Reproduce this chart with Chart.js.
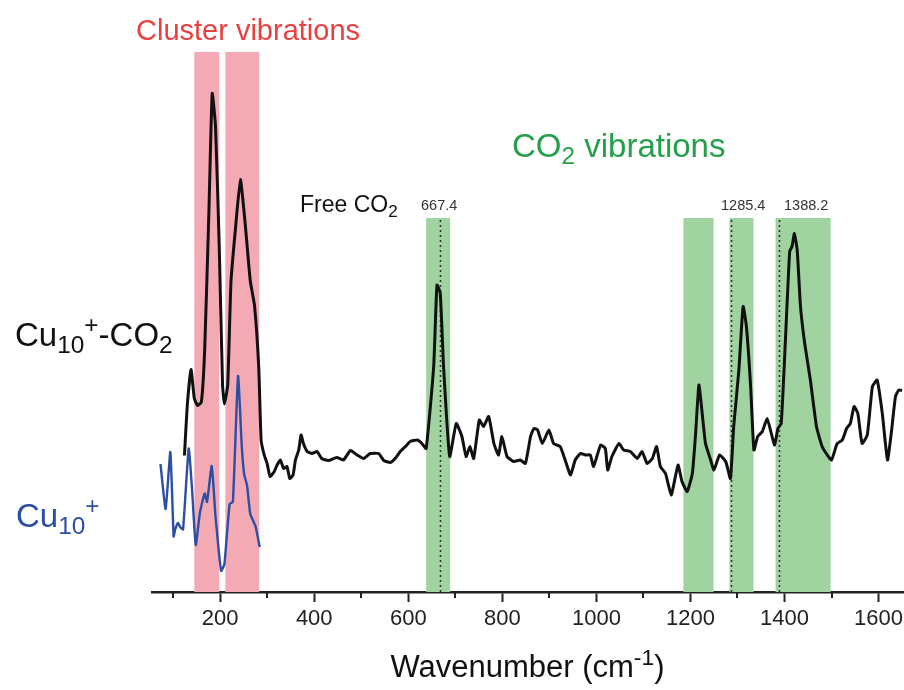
<!DOCTYPE html>
<html>
<head>
<meta charset="utf-8" />
<title>Cu10+ / Cu10+-CO2 IR spectrum</title>
<script src="https://cdn.jsdelivr.net/npm/chart.js@4.4.1/dist/chart.umd.min.js"></script>
<style>
  html, body { margin: 0; padding: 0; background: #fff; }
  #wrap { width: 904px; height: 690px; }
</style>
</head>
<body>
<div id="wrap"><canvas id="spec"></canvas></div>
<script>
// Cu10+-CO2 spectrum (black)
const complexWn = [124,130,138,145,152,160,167,176,183,190,198,205,209,216,223,233,243,253,264,273,
  282,287,293,300,306,315,321,328,335,342,348,355,360,367,372,377,385,395,406,416,
  430,448,462,477,491,505,519,537,548,562,572,583,594,604,619,629,638,654,661,668,
  675,688,702,714,723,731,739,751,760,771,782,792,799,810,824,838,849,860,867,875,
  885,899,909,923,936,945,955,966,977,987,994,1009,1019,1024,1033,1048,1058,1072,1087,1097,
  1108,1119,1128,1136,1147,1159,1168,1174,1182,1193,1204,1211,1218,1225,1232,1243,1250,1262,1275,1285,
  1292,1303,1312,1319,1328,1335,1343,1353,1363,1372,1379,1386,1393,1402,1411,1416,1421,1427,1434,1443,
  1455,1468,1480,1491,1500,1512,1523,1532,1540,1548,1556,1565,1576,1587,1597,1608,1619,1627,1636,1643,1650];
const complexInt = [27.3,37.3,44.5,38.7,37.3,38,48.4,76,99.7,93.2,69,41.4,37.6,41.4,62.2,73.2,82.5,73.8,62.2,57.3,
  44.9,30.4,27.6,25.6,23.1,24.1,25.4,26.4,24.7,25.1,22.7,23.4,26.4,28.4,31.4,29.7,28.1,27.7,28.1,26.7,
  26.3,26.9,26.4,28.3,27.4,26.7,27.7,27.7,26.3,25.9,26.7,28.1,29.1,30.1,30.4,29.7,28.7,45.1,61.4,59.7,
  45.1,27.1,33.7,31.1,27.1,29.1,26.7,34.4,33.1,35.1,29.7,27.4,31.1,27.1,26.1,26.4,25.7,31.1,32.7,32.4,
  29.7,32.4,29.7,29.1,25.7,23.4,26.4,27.7,27.4,27.4,25.1,29.4,28.7,24.4,27.1,29.7,28.4,28.1,26.7,28.1,
  25.7,26.7,29.1,25.1,23.7,19.4,23.1,25.4,22.1,20.1,23.7,31.7,41.4,35.7,29.7,26.4,24.4,27.4,26.1,22.7,
  33.1,44.4,57.1,53.1,41.1,28.4,31.1,32.1,34.7,31.7,29.4,32.7,33.7,50.4,68.1,69.1,71.7,68.4,57.1,49.7,
  42.4,33.1,29.1,27.4,26.4,29.7,30.4,32.7,33.7,37.1,35.7,29.7,31.4,41.1,42.4,35.7,26.4,31.7,39.1,40.4,40.3];

// bare Cu10+ spectrum (blue)
const bareWn = [73,84,94,101,104,110,115,121,133,140,148,157,167,172,182,190,202,209,220,227,238,246,251,257,264,275,284];
const bareInt = [25.6,16.6,28,11.1,12.4,13.8,13,12.5,28.7,20.8,9.4,15.9,19.7,18,25.2,15.2,4.2,5.6,17.6,18,43.2,29,23.5,21.4,15.6,13.2,9];

// shaded regions (wavenumber ranges) and free CO2 lines
const clusterBands = [[145, 198], [211, 283]];
const co2Bands = [[638, 689], [1185, 1249], [1283, 1334], [1381, 1498]];
const co2BandTop = 74.8;
const freeCO2Lines = [667.4, 1285.4, 1388.2];

// axis ticks
const xTickLabels = [200, 400, 600, 800, 1000, 1200, 1400, 1600];
const xMinorTicks = [100, 300, 500, 700, 900, 1100, 1300, 1500];

const FONT = '"Liberation Sans", Arial, Helvetica, sans-serif';

// draw a string made of normal / subscript (-1) / superscript (1) pieces
function drawRuns(ctx, parts, x, y, size, color, align) {
  const fs = k => (k ? size * 0.74 : size);
  let w = 0;
  parts.forEach(([t, k]) => { ctx.font = fs(k) + 'px ' + FONT; w += ctx.measureText(t).width; });
  let cx = align === 'center' ? x - w / 2 : x;
  ctx.fillStyle = color;
  ctx.textAlign = 'left';
  ctx.textBaseline = 'alphabetic';
  parts.forEach(([t, k]) => {
    ctx.font = fs(k) + 'px ' + FONT;
    const dy = k === -1 ? size * 0.22 : (k === 1 ? -size * 0.38 : 0);
    ctx.fillText(t, cx, y + dy);
    cx += ctx.measureText(t).width;
  });
}

const annotate = {
  id: 'annotate',
  beforeDatasetsDraw(chart) {
    const {ctx, chartArea: a, scales: {x, y}} = chart;
    ctx.save();
    ctx.fillStyle = 'rgb(244,170,181)';
    clusterBands.forEach(([lo, hi]) => {
      const x0 = x.getPixelForValue(lo), x1 = x.getPixelForValue(hi);
      ctx.fillRect(x0, a.top, x1 - x0, a.bottom - a.top);
    });
    const gTop = y.getPixelForValue(co2BandTop);
    ctx.fillStyle = 'rgb(160,211,160)';
    co2Bands.forEach(([lo, hi]) => {
      const x0 = x.getPixelForValue(lo), x1 = x.getPixelForValue(hi);
      ctx.fillRect(x0, gTop, x1 - x0, a.bottom - gTop);
    });
    ctx.strokeStyle = '#333';
    ctx.lineWidth = 1.6;
    ctx.setLineDash([2, 3]);
    freeCO2Lines.forEach(v => {
      const px = Math.round(x.getPixelForValue(v)) + 0.5;
      ctx.beginPath();
      ctx.moveTo(px, gTop + 2);
      ctx.lineTo(px, a.bottom);
      ctx.stroke();
    });
    ctx.restore();
  },
  afterDraw(chart) {
    const {ctx, chartArea: a, scales: {x}} = chart;
    ctx.save();
    // minor ticks
    ctx.strokeStyle = '#222';
    ctx.lineWidth = 2;
    xMinorTicks.forEach(v => {
      const px = Math.round(x.getPixelForValue(v));
      ctx.beginPath();
      ctx.moveTo(px, a.bottom);
      ctx.lineTo(px, a.bottom + 6);
      ctx.stroke();
    });
    // labels
    drawRuns(ctx, [['Cluster vibrations', 0]], 136, 40, 29, '#e8403f');
    drawRuns(ctx, [['CO', 0], ['2', -1], [' vibrations', 0]], 512, 157, 33, '#24a04b');
    drawRuns(ctx, [['Free CO', 0], ['2', -1]], 300, 212, 23, '#111');
    ctx.font = '14.5px ' + FONT;
    ctx.fillStyle = '#333';
    ctx.fillText('667.4', 421, 210);
    ctx.fillText('1285.4', 721, 210);
    ctx.fillText('1388.2', 784, 210);
    drawRuns(ctx, [['Cu', 0], ['10', -1], ['+', 1], ['-CO', 0], ['2', -1]], 15, 346, 33, '#111');
    drawRuns(ctx, [['Cu', 0], ['10', -1], ['+', 1]], 16, 527, 33, '#2c4ea3');
    drawRuns(ctx, [['Wavenumber (cm', 0], ['-1', 1], [')', 0]], (a.left + a.right) / 2, 677, 31, '#111', 'center');
    ctx.restore();
  }
};

new Chart(document.getElementById('spec'), {
  type: 'line',
  data: {
    datasets: [
      {
        label: 'Cu10+-CO2',
        data: complexWn.map((w, i) => ({x: w, y: complexInt[i]})),
        borderColor: '#111',
        borderWidth: 3,
        pointRadius: 0,
        tension: 0.15,
        borderJoinStyle: 'round'
      },
      {
        label: 'Cu10+',
        data: bareWn.map((w, i) => ({x: w, y: bareInt[i]})),
        borderColor: '#2c4ea3',
        borderWidth: 2.4,
        pointRadius: 0,
        tension: 0.15,
        borderJoinStyle: 'round'
      }
    ]
  },
  options: {
    responsive: true,
    maintainAspectRatio: false,
    animation: false,
    layout: {padding: {left: 152, right: 1, top: 52, bottom: 0}},
    plugins: {legend: {display: false}, tooltip: {enabled: false}},
    scales: {
      x: {
        type: 'linear',
        min: 55,
        max: 1652,
        afterBuildTicks: s => { s.ticks = xTickLabels.map(v => ({value: v})); },
        afterFit: s => { s.height = 98; s.paddingRight = 0; s.paddingLeft = 0; },
        ticks: {
          color: '#222',
          padding: 4,
          maxRotation: 0,
          font: {size: 22, family: FONT},
          callback: v => String(v)
        },
        grid: {
          display: true,
          drawOnChartArea: false,
          drawTicks: true,
          tickLength: 10,
          tickWidth: 2,
          tickColor: '#222'
        },
        border: {display: true, width: 2.5, color: '#222'}
      },
      y: {
        display: false,
        min: 0,
        max: 108
      }
    }
  },
  plugins: [annotate]
});
</script>
</body>
</html>
